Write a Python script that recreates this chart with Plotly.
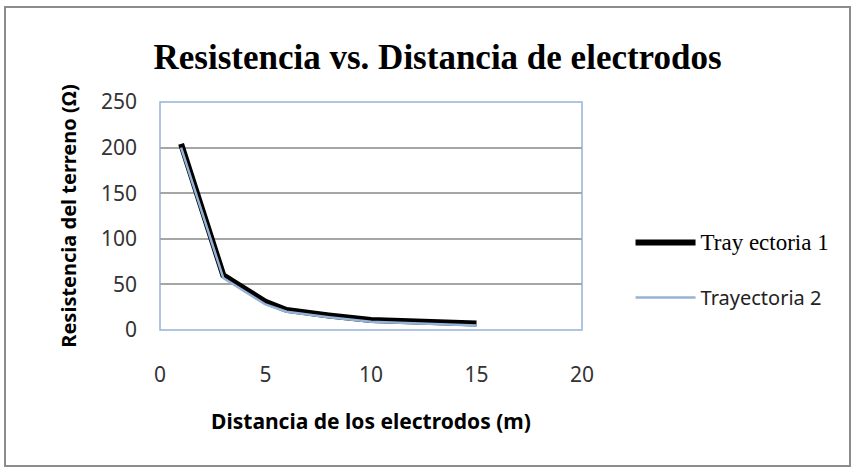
import plotly.graph_objects as go

distancia = [1, 3, 5, 6, 8, 10, 15]
trayectoria1 = [204, 60, 31, 22, 16, 11, 7]
trayectoria2 = [200, 57, 28, 20, 14, 9, 5]
x_ticks = [0, 5, 10, 15, 20]
y_ticks = [0, 50, 100, 150, 200, 250]

fig = go.Figure()
fig.add_trace(go.Scatter(x=distancia, y=trayectoria1, mode="lines",
                         name='<span style="font-family:Liberation Serif;font-size:23px;color:#000">Tray ectoria 1</span>',
                         legendgroup="a",
                         line=dict(color="#000000", width=6)))
fig.add_trace(go.Scatter(x=distancia, y=trayectoria2, mode="lines", name="Trayectoria 2",
                         legendgroup="b",
                         line=dict(color="#95B3D7", width=2.5)))

fig.update_layout(
    width=853, height=468,
    margin=dict(l=160, r=271, t=102, b=138),
    paper_bgcolor="white", plot_bgcolor="white",
    title=dict(text="<b>Resistencia vs. Distancia de electrodos</b>",
               font=dict(family="Liberation Serif", size=35, color="black"),
               x=0.513, xanchor="center", y=0.878, yanchor="middle"),
    legend=dict(x=1.115, y=0.263, xanchor="left", yanchor="middle",
                font=dict(family="Noto Sans", size=20, color="#222"),
                tracegroupgap=26, itemwidth=60, bgcolor="rgba(0,0,0,0)"),
    xaxis=dict(range=[0, 20], tickvals=x_ticks, showgrid=False, zeroline=False,
               showline=False, ticks="", ticklabelstandoff=30,
               tickfont=dict(family="Noto Sans", size=21, color="#333"),
               title=dict(text="<b>Distancia de los electrodos (m)</b>",
                          font=dict(family="Noto Sans", size=21, color="black"), standoff=27)),
    yaxis=dict(range=[0, 250], tickvals=y_ticks, showgrid=True, gridcolor="#A6A6A6",
               gridwidth=1.5, zeroline=False, showline=False, ticks="", ticklabelstandoff=22,
               tickfont=dict(family="Noto Sans", size=21, color="#333"),
               title=dict(text="<b>Resistencia del terreno (Ω)</b>",
                          font=dict(family="Noto Sans", size=20, color="black"), standoff=18)),
    showlegend=True,
)
# plot border
fig.add_shape(type="rect", xref="paper", yref="paper", x0=0, y0=0, x1=1, y1=1,
              line=dict(color="#95B3D7", width=1.5), layer="below")
# outer chart frame
fig.add_shape(type="rect", xref="paper", yref="paper",
              x0=-155/422, x1=(850-160)/422, y0=-(466-330)/228, y1=(330-7)/228,
              line=dict(color="#8C8C8C", width=2))

fig.write_html("out.html")
